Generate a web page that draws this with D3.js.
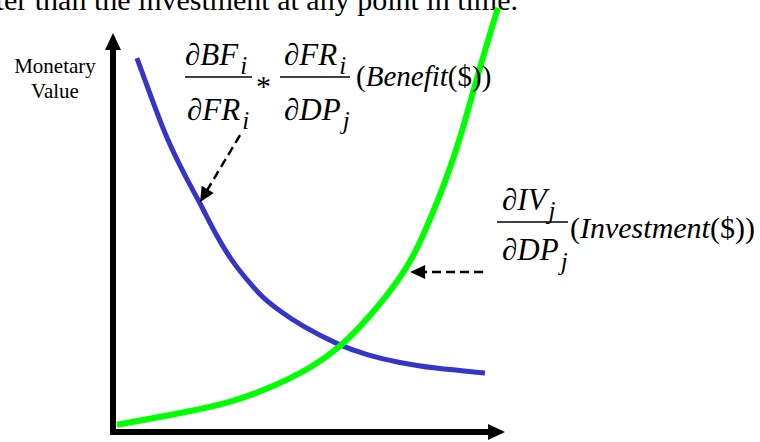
<html>
<head>
<meta charset="utf-8">
<script src="https://d3js.org/d3.v7.min.js"></script>
<style>
  body { margin: 0; background: #fff; }
  svg text { font-family: "Liberation Serif", "Times New Roman", serif; fill: #000; }
</style>
</head>
<body>
<script>
// values, in abstract units (0-100 on both axes)
var benefitX = [6.1, 9.9, 13.8, 18.9, 22.2, 26.5, 30.6, 35.5, 38.8, 42.6, 47.7, 57.9, 64.8, 73.2, 81.6, 94.9];
var benefitY = [93.7, 83.5, 73.2, 63.2, 57.4, 48.9, 42.4, 36.6, 33.1, 30.3, 26.8, 21.6, 19.3, 17.3, 16.0, 14.8];
var investX = [1.0, 17.9, 30.6, 40.8, 51.0, 57.9, 63.0, 69.1, 75.0, 78.3, 81.6, 85.2, 88.5, 93.6, 98.2];
var investY = [1.8, 4.8, 7.5, 11.3, 16.3, 21.3, 26.3, 33.1, 41.1, 47.4, 54.9, 63.9, 73.2, 91.5, 106.3];
var yLabel = ["Monetary", "Value"];
var caption = "ter than the investment at any point in time.";
// dashed pointers: [fromX, fromY, toX, toY]
var pointers = [[32.4, 74.4, 22.2, 57.6], [94.4, 40.1, 75.8, 40.1]];

var width = 760, height = 442;
var svg = d3.select("body").append("svg")
  .attr("width", width).attr("height", height);

var x = d3.scaleLinear().domain([0, 100]).range([113, 505]);
var y = d3.scaleLinear().domain([0, 100]).range([432, 33]);

// caption cut off at the top, as in the source figure
svg.append("text").attr("x", 518).attr("y", 10)
  .attr("text-anchor", "end").style("font-size", "30px").text(caption);

// axes with arrow heads
var x0 = x(0), y0 = y(0);
svg.append("path")
  .attr("d", "M" + x0 + "," + (y0 + 3) + "V" + (y(100) + 14))
  .attr("stroke", "#000").attr("stroke-width", 6).attr("fill", "none");
svg.append("path")
  .attr("d", "M" + (x0 - 3) + "," + y0 + "H" + (x(100) - 14))
  .attr("stroke", "#000").attr("stroke-width", 6).attr("fill", "none");
svg.append("path")
  .attr("d", "M" + x0 + "," + y(100) + "L" + (x0 + 8) + "," + (y(100) + 17) + "L" + (x0 - 8) + "," + (y(100) + 17) + "Z")
  .attr("fill", "#000");
svg.append("path")
  .attr("d", "M" + x(100) + "," + y0 + "L" + (x(100) - 17) + "," + (y0 - 8) + "L" + (x(100) - 17) + "," + (y0 + 8) + "Z")
  .attr("fill", "#000");

svg.selectAll(".ylab").data(yLabel).enter().append("text")
  .attr("x", 55).attr("y", function(d, i) { return 73 + i * 25; })
  .attr("text-anchor", "middle").style("font-size", "21px")
  .text(function(d) { return d; });

// curves
var line = d3.line()
  .x(function(d) { return x(d[0]); })
  .y(function(d) { return y(d[1]); })
  .curve(d3.curveBasis);

svg.append("path").datum(d3.zip(benefitX, benefitY))
  .attr("d", line).attr("fill", "none")
  .attr("stroke", "#3535c8").attr("stroke-width", 5);
svg.append("path").datum(d3.zip(investX, investY))
  .attr("d", line).attr("fill", "none")
  .attr("stroke", "#00ff00").attr("stroke-width", 6);

// dashed pointers
pointers.forEach(function(p) {
  var x1 = x(p[0]), y1 = y(p[1]), x2 = x(p[2]), y2 = y(p[3]);
  var a = Math.atan2(y2 - y1, x2 - x1);
  var len = 15, hw = 7;
  var bx = x2 - len * Math.cos(a), by = y2 - len * Math.sin(a);
  svg.append("line")
    .attr("x1", x1).attr("y1", y1).attr("x2", bx + 2 * Math.cos(a)).attr("y2", by + 2 * Math.sin(a))
    .attr("stroke", "#000").attr("stroke-width", 2.5).attr("stroke-dasharray", "9,5");
  svg.append("path")
    .attr("d", "M" + x2 + "," + y2 +
      "L" + (bx - hw * Math.sin(a)) + "," + (by + hw * Math.cos(a)) +
      "L" + (bx + hw * Math.sin(a)) + "," + (by - hw * Math.cos(a)) + "Z")
    .attr("fill", "#000");
});

// formula helper: main text plus subscript
function term(px, py, main, sub, subDy) {
  var t = svg.append("text").attr("x", px).attr("y", py)
    .style("font-size", "31px").style("font-style", "italic");
  t.append("tspan").text(main);
  t.append("tspan").attr("dx", 2).attr("dy", subDy).style("font-size", "25px").text(sub);
}
function bar(xa, xb, yy) {
  svg.append("line").attr("x1", xa).attr("x2", xb).attr("y1", yy).attr("y2", yy)
    .attr("stroke", "#000").attr("stroke-width", 1.5);
}

// benefit formula
term(185, 65, "\u2202BF", "i", 9);
bar(185, 252, 77);
term(187, 120, "\u2202FR", "i", 9);
svg.append("text").attr("x", 256).attr("y", 96).style("font-size", "30px").text("*");
term(284, 65, "\u2202FR", "i", 9);
bar(280, 350, 77);
term(284, 120, "\u2202DP", "j", 9);
var b = svg.append("text").attr("x", 356).attr("y", 86).style("font-size", "29px");
b.append("tspan").text("(");
b.append("tspan").style("font-style", "italic").text("Benefit");
b.append("tspan").text("($))");

// investment formula
term(502, 210, "\u2202IV", "j", 9);
bar(497, 568, 222);
term(502, 260, "\u2202DP", "j", 10);
var v = svg.append("text").attr("x", 570).attr("y", 238).style("font-size", "30px");
v.append("tspan").text("(");
v.append("tspan").style("font-style", "italic").text("Investment");
v.append("tspan").text("($))");
</script>
</body>
</html>
